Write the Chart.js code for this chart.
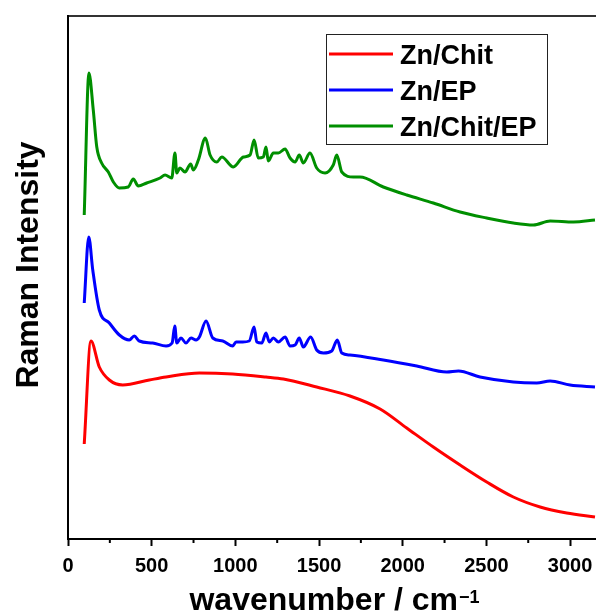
<!DOCTYPE html>
<html>
<head>
<meta charset="utf-8">
<script src="https://cdn.jsdelivr.net/npm/chart.js@4/dist/chart.umd.min.js"></script>
<style>
  body { margin: 0; background: #fff; }
  canvas { display: block; }
</style>
</head>
<body>
<canvas id="ramanChart" width="596" height="612"></canvas>
<script>
// Zn/Chit
const chitWn = [97, 137, 187, 247, 327, 486, 586, 785, 984, 1183, 1287, 1486, 1685, 1865, 2024, 2183, 2343, 2502, 2661, 2821, 2980, 3149];
const chitI = [94, 197, 171, 158, 153, 158, 161, 165, 164, 161, 159, 151, 142, 129, 110, 91, 73, 56, 41, 31, 25, 21];

// Zn/EP
const epWn = [97, 124, 148, 187, 247, 307, 366, 396, 426, 506, 586, 622, 638, 650, 675, 705, 735, 765, 785, 825, 865, 925, 984, 1004, 1044, 1083, 1112, 1128, 1158, 1183, 1203, 1227, 1257, 1297, 1327, 1357, 1382, 1406, 1450, 1486, 1526, 1576, 1609, 1636, 1685, 1884, 2084, 2263, 2333, 2462, 2661, 2801, 2881, 3000, 3149];
const epI = [235, 301, 268, 228, 215, 203, 198, 202, 197, 195, 192, 195, 212, 195, 200, 195, 200, 198, 201, 217, 200, 197, 192, 196, 196, 197, 211, 196, 195, 205, 196, 200, 196, 201, 192, 193, 200, 191, 201, 188, 185, 187, 198, 185, 183, 178, 172, 166, 167, 161, 156, 155, 157, 153, 151];

// Zn/Chit/EP
const chitEpWn = [97, 125, 151, 172, 201, 241, 271, 307, 360, 390, 420, 470, 550, 580, 620, 639, 650, 669, 699, 733, 749, 779, 821, 849, 889, 919, 988, 1048, 1088, 1112, 1137, 1167, 1183, 1197, 1227, 1257, 1297, 1327, 1357, 1382, 1406, 1446, 1486, 1536, 1585, 1606, 1636, 1705, 1745, 1884, 2024, 2183, 2343, 2502, 2661, 2781, 2881, 3020, 3149];
const chitEpI = [323, 465, 428, 391, 375, 366, 356, 350, 351, 359, 352, 355, 360, 363, 360, 385, 365, 370, 366, 374, 368, 378, 400, 383, 376, 381, 371, 381, 383, 398, 380, 381, 391, 377, 385, 385, 389, 380, 376, 383, 375, 385, 370, 365, 373, 383, 366, 361, 361, 351, 343, 335, 326, 320, 315, 313, 317, 316, 318];

const xMin = 0;
const xMax = 3155;
const fontFamily = "'Liberation Sans', Arial, sans-serif";

function toPoints(xs, ys) {
  return xs.map((x, i) => ({ x: x, y: ys[i] }));
}

// legend box inside the plot, drawn from the datasets
const boxLegend = {
  id: "boxLegend",
  afterDraw(chart) {
    const ctx = chart.ctx;
    ctx.save();
    ctx.strokeStyle = "#222";
    ctx.lineWidth = 1;
    ctx.strokeRect(326.5, 34.5, 221, 110);
    chart.data.datasets.forEach((ds, i) => {
      const y = 54 + i * 36;
      ctx.strokeStyle = ds.borderColor;
      ctx.lineWidth = 3;
      ctx.beginPath();
      ctx.moveTo(329, y);
      ctx.lineTo(393, y);
      ctx.stroke();
      ctx.fillStyle = "#000";
      ctx.font = "bold 27px " + fontFamily;
      ctx.textBaseline = "alphabetic";
      ctx.fillText(ds.label, 400, y + 9.5);
    });
    ctx.restore();
  },
};

// minor ticks + axis titles (superscript in x title)
const axisExtras = {
  id: "axisExtras",
  afterDraw(chart) {
    const ctx = chart.ctx;
    const xs = chart.scales.x;
    const bottom = chart.chartArea.bottom;
    ctx.save();
    ctx.strokeStyle = "#000";
    ctx.lineWidth = 2;
    for (let v = 250; v <= xMax; v += 500) {
      const px = xs.getPixelForValue(v);
      ctx.beginPath();
      ctx.moveTo(px, bottom);
      ctx.lineTo(px, bottom + 4);
      ctx.stroke();
    }

    ctx.fillStyle = "#000";
    const main = "wavenumber / cm";
    const sup = "\u22121";
    ctx.font = "bold 32px " + fontFamily;
    const wMain = ctx.measureText(main).width;
    ctx.font = "bold 18px " + fontFamily;
    const wSup = ctx.measureText(sup).width;
    const startX = 334 - (wMain + wSup) / 2;
    ctx.textAlign = "left";
    ctx.textBaseline = "alphabetic";
    ctx.font = "bold 32px " + fontFamily;
    ctx.fillText(main, startX, 610);
    ctx.font = "bold 18px " + fontFamily;
    ctx.fillText(sup, startX + wMain + 1, 603);

    ctx.translate(38, 265);
    ctx.rotate(-Math.PI / 2);
    ctx.textAlign = "center";
    ctx.font = "bold 32px " + fontFamily;
    ctx.fillText("Raman Intensity", 0, 0);
    ctx.restore();
  },
};

const chart = new Chart("ramanChart", {
  type: "line",
  data: {
    datasets: [
      {
        label: "Zn/Chit",
        data: toPoints(chitWn, chitI),
        borderColor: "#FF0000",
        borderWidth: 3,
        pointRadius: 0,
        cubicInterpolationMode: "monotone",
        fill: false,
      },
      {
        label: "Zn/EP",
        data: toPoints(epWn, epI),
        borderColor: "#0000FF",
        borderWidth: 3,
        pointRadius: 0,
        cubicInterpolationMode: "monotone",
        fill: false,
      },
      {
        label: "Zn/Chit/EP",
        data: toPoints(chitEpWn, chitEpI),
        borderColor: "#008F00",
        borderWidth: 3,
        pointRadius: 0,
        cubicInterpolationMode: "monotone",
        fill: false,
      },
    ],
  },
  options: {
    responsive: false,
    animation: false,
    devicePixelRatio: 1,
    layout: { padding: 0 },
    plugins: {
      legend: { display: false },
      tooltip: { enabled: false },
    },
    scales: {
      x: {
        type: "linear",
        position: "bottom",
        min: xMin,
        max: xMax,
        border: { display: true, color: "#000", width: 2 },
        grid: {
          display: true,
          drawOnChartArea: false,
          drawTicks: true,
          tickLength: 7,
          tickWidth: 2,
          tickColor: (c) => (c.tick && c.tick.value % 500 === 0 ? "#000" : "rgba(0,0,0,0)"),
        },
        ticks: {
          stepSize: 250,
          includeBounds: false,
          autoSkip: false,
          maxRotation: 0,
          padding: 8,
          color: "#000",
          font: { family: fontFamily, size: 20, weight: "bold" },
          callback: (v) => (v % 500 === 0 ? String(v) : ""),
        },
        afterFit: (scale) => {
          scale.height = 73;
          scale.paddingLeft = 0;
          scale.paddingRight = 0;
        },
      },
      xTop: {
        type: "linear",
        position: "top",
        min: xMin,
        max: xMax,
        border: { display: true, color: "#333", width: 2 },
        grid: { display: false },
        ticks: { display: false },
        afterFit: (scale) => {
          scale.height = 16;
          scale.paddingLeft = 0;
          scale.paddingRight = 0;
        },
      },
      y: {
        type: "linear",
        min: -1,
        max: 522,
        border: { display: true, color: "#000", width: 2 },
        grid: { display: false },
        ticks: { display: false },
        afterFit: (scale) => {
          scale.width = 68;
          scale.paddingTop = 0;
          scale.paddingBottom = 0;
        },
      },
    },
  },
  plugins: [boxLegend, axisExtras],
});
</script>
</body>
</html>
